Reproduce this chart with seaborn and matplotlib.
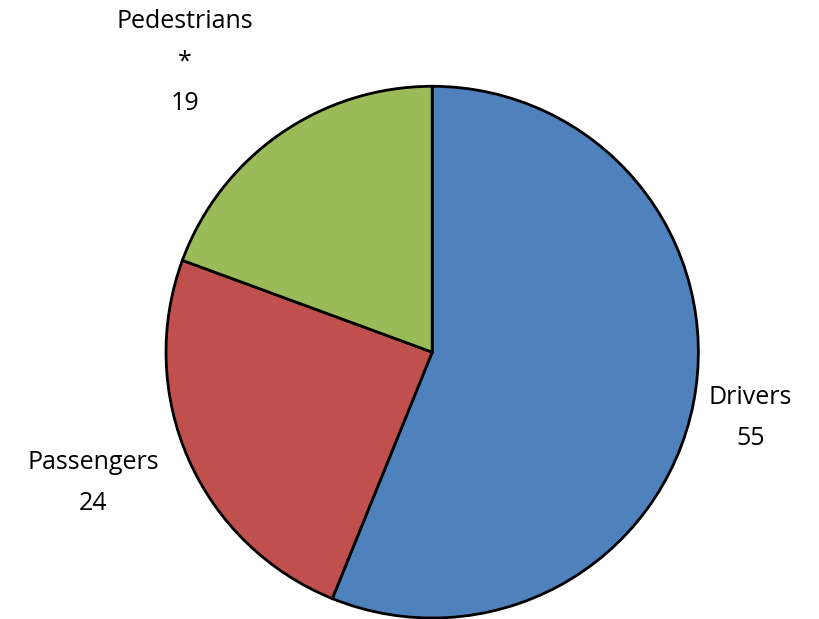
import matplotlib
matplotlib.use("Agg")
import matplotlib.pyplot as plt
import seaborn as sns

# slice data, clockwise from 12 o'clock
categories = ["Drivers", "Passengers", "Pedestrians"]
values = [55, 24, 19]
value_labels = ["55", "24", "*\n19"]

sns.set_theme(style="white")
plt.rcParams['font.family'] = ['Open Sans', 'DejaVu Sans']
colors = ["#4F81BD", "#C0504D", "#9BBB59"]

fig = plt.figure(figsize=(8.19, 6.19), dpi=100)
ax = fig.add_axes([0.2027, 0.0016, 0.65, 0.859])

wedges, _ = ax.pie(values, colors=colors, startangle=90, counterclock=False,
                   wedgeprops=dict(edgecolor="black", linewidth=2))
ax.set_xlim(-1, 1)
ax.set_ylim(-1, 1)
ax.set_aspect("auto")

# label spots (data units, pie radius = 1)
label_pos = [(1.195, -0.248), (-1.274, -0.492), (-0.929, 1.09)]
for cat, vl, (x, y) in zip(categories, value_labels, label_pos):
    ax.text(x, y, cat + "\n" + vl, ha="center", va="center", fontsize=18,
            linespacing=1.85, color="black", clip_on=False)

fig.savefig("out.png", dpi=100)
